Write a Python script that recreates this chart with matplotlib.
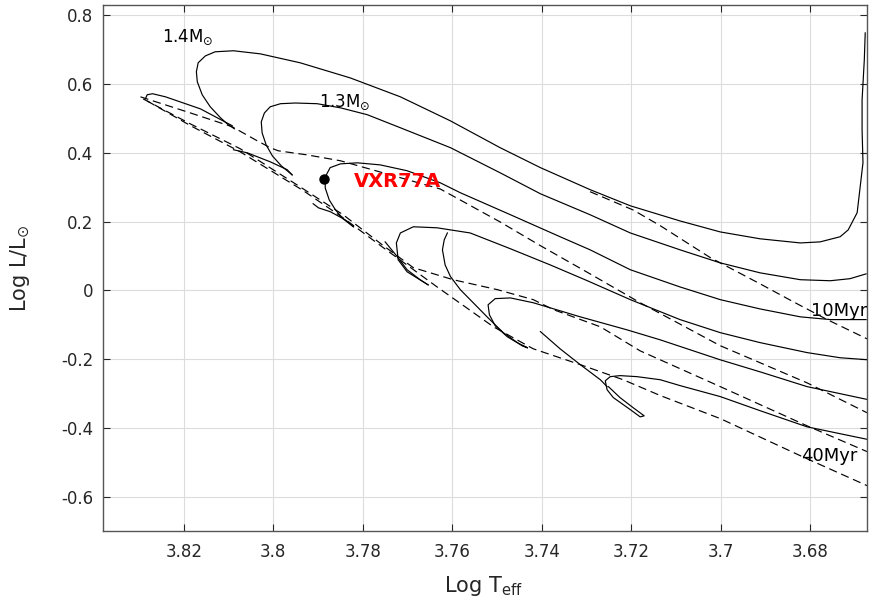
import matplotlib
matplotlib.use("Agg")
import matplotlib.pyplot as plt

# ---- pre-main-sequence evolutionary tracks (log Teff, log L/Lsun) ----
t14_logT = [3.6677, 3.6679, 3.6684, 3.6684, 3.6682, 3.6695, 3.6715, 3.6733, 3.6778,
            3.6822, 3.6912, 3.7001, 3.7091, 3.7202, 3.7292, 3.7403, 3.7493, 3.7604,
            3.7716, 3.7828, 3.7940, 3.8029, 3.8089, 3.8130, 3.8152, 3.8168, 3.8172,
            3.8170, 3.8159, 3.8141, 3.8118, 3.8101, 3.8087]
t14_logL = [0.749, 0.671, 0.554, 0.467, 0.371, 0.226, 0.176, 0.156, 0.141,
            0.138, 0.150, 0.170, 0.202, 0.246, 0.293, 0.357, 0.415, 0.493,
            0.563, 0.618, 0.662, 0.688, 0.697, 0.694, 0.682, 0.662, 0.636,
            0.607, 0.569, 0.534, 0.502, 0.482, 0.470]
t14b_logT = [3.8286, 3.8282, 3.8270, 3.8241, 3.8163, 3.8092]
t14b_logL = [0.557, 0.569, 0.572, 0.563, 0.528, 0.479]

t13_logT = [3.6675, 3.6711, 3.6755, 3.6822, 3.6912, 3.7001, 3.7091, 3.7202, 3.7292,
            3.7403, 3.7493, 3.7604, 3.7716, 3.7790, 3.7850, 3.7902, 3.7951, 3.7984,
            3.8007, 3.8020, 3.8027, 3.8025, 3.8016, 3.8002, 3.7982, 3.7958]
t13_logL = [0.048, 0.034, 0.028, 0.031, 0.051, 0.080, 0.118, 0.167, 0.220,
            0.281, 0.342, 0.415, 0.473, 0.511, 0.531, 0.543, 0.545, 0.543,
            0.534, 0.516, 0.490, 0.458, 0.423, 0.391, 0.362, 0.336]
t13b_logT = [3.8089, 3.8058, 3.8007, 3.7969, 3.7958]
t13b_logL = [0.409, 0.400, 0.374, 0.351, 0.336]

t12_logT = [3.6675, 3.6755, 3.6822, 3.6912, 3.7001, 3.7091, 3.7202, 3.7292, 3.7359,
            3.7470, 3.7582, 3.7627, 3.7701, 3.7761, 3.7812, 3.7850, 3.7873, 3.7884,
            3.7884, 3.7875, 3.7861, 3.7844, 3.7821]
t12_logL = [-0.085, -0.085, -0.077, -0.054, -0.027, 0.010, 0.060, 0.118, 0.156,
            0.220, 0.284, 0.313, 0.348, 0.365, 0.371, 0.368, 0.357, 0.330,
            0.298, 0.263, 0.234, 0.208, 0.185]
t12b_logT = [3.7911, 3.7899, 3.7873, 3.7839, 3.7821]
t12b_logL = [0.252, 0.240, 0.229, 0.205, 0.185]

t11_logT = [3.6670, 3.6733, 3.6807, 3.6912, 3.7001, 3.7091, 3.7202, 3.7298, 3.7381,
            3.7470, 3.7560, 3.7634, 3.7687, 3.7716, 3.7725, 3.7721, 3.7701, 3.7665,
            3.7654]
t11_logL = [-0.202, -0.196, -0.181, -0.152, -0.123, -0.085, -0.027, 0.028, 0.074,
            0.121, 0.167, 0.182, 0.185, 0.167, 0.138, 0.089, 0.054, 0.025,
            0.016]
t11b_logT = [3.7750, 3.7723, 3.7701, 3.7672, 3.7654]
t11b_logL = [0.141, 0.098, 0.060, 0.031, 0.016]

t10_logT = [3.6670, 3.6807, 3.6912, 3.7001, 3.7135, 3.7209, 3.7314, 3.7419, 3.7470,
            3.7504, 3.7520, 3.7517, 3.7504, 3.7477, 3.7455, 3.7432, 3.7444]
t10_logL = [-0.318, -0.280, -0.237, -0.202, -0.144, -0.115, -0.077, -0.036, -0.022,
            -0.024, -0.042, -0.071, -0.103, -0.135, -0.152, -0.167, -0.161]
t10b_logT = [3.7611, 3.7618, 3.7622, 3.7616, 3.7604, 3.7582, 3.7560, 3.7520, 3.7486,
             3.7448, 3.7432]
t10b_logL = [0.167, 0.147, 0.118, 0.074, 0.040, 0.002, -0.027, -0.080, -0.123,
             -0.158, -0.167]

t09_logT = [3.6670, 3.6807, 3.6912, 3.7001, 3.7091, 3.7135, 3.7187, 3.7225, 3.7247,
            3.7258, 3.7254, 3.7240, 3.7202, 3.7180, 3.7171, 3.7196, 3.7225, 3.7251]
t09_logL = [-0.434, -0.397, -0.350, -0.309, -0.277, -0.260, -0.251, -0.248, -0.251,
            -0.263, -0.289, -0.312, -0.347, -0.368, -0.365, -0.341, -0.312, -0.280]
t09b_logT = [3.7403, 3.7359, 3.7314, 3.7269, 3.7254]
t09b_logL = [-0.120, -0.170, -0.216, -0.260, -0.280]

# ---- isochrones ----
iso10_logT = [3.7292, 3.7196, 3.7135, 3.7023, 3.6912, 3.6838, 3.6762, 3.6673]
iso10_logL = [0.287, 0.234, 0.188, 0.095, 0.019, -0.033, -0.085, -0.141]

iso20_logT = [3.8297, 3.8185, 3.8092, 3.8040, 3.8007, 3.7989, 3.7924, 3.7850, 3.7627,
              3.7493, 3.7403, 3.7292, 3.7180, 3.7001, 3.6807, 3.6673]
iso20_logL = [0.563, 0.516, 0.476, 0.438, 0.415, 0.406, 0.394, 0.377, 0.295,
              0.199, 0.130, 0.048, -0.036, -0.161, -0.269, -0.356]

iso30_logT = [3.8291, 3.8185, 3.8074, 3.7940, 3.7844, 3.7754, 3.7687, 3.7598, 3.7499,
              3.7419, 3.7374, 3.7269, 3.7180, 3.7001, 3.6807, 3.6673]
iso30_logL = [0.557, 0.484, 0.412, 0.301, 0.220, 0.130, 0.066, 0.031, 0.002,
              -0.027, -0.056, -0.106, -0.176, -0.280, -0.394, -0.469]

iso40_logT = [3.8282, 3.8185, 3.8074, 3.7933, 3.7844, 3.7754, 3.7634, 3.7508, 3.7419,
              3.7314, 3.7218, 3.7135, 3.7001, 3.6822, 3.6673]
iso40_logL = [0.551, 0.479, 0.403, 0.290, 0.211, 0.124, 0.010, -0.106, -0.170,
              -0.216, -0.260, -0.306, -0.373, -0.481, -0.568]

# ---- the star ----
star_name = "VXR77A"
star_logT = 3.7887
star_logL = 0.3245

xticks = [3.82, 3.80, 3.78, 3.76, 3.74, 3.72, 3.70, 3.68]
xtick_labels = ["3.82", "3.8", "3.78", "3.76", "3.74", "3.72", "3.7", "3.68"]
yticks = [0.8, 0.6, 0.4, 0.2, 0.0, -0.2, -0.4, -0.6]
ytick_labels = ["0.8", "0.6", "0.4", "0.2", "0", "-0.2", "-0.4", "-0.6"]

axis_col = "#262626"

fig = plt.figure(figsize=(8.69, 6.10), dpi=100)
ax = fig.add_axes([0.1189, 0.1295, 0.8788, 0.8628])

tracks = [(t14_logT, t14_logL), (t14b_logT, t14b_logL),
          (t13_logT, t13_logL), (t13b_logT, t13b_logL),
          (t12_logT, t12_logL), (t12b_logT, t12b_logL),
          (t11_logT, t11_logL), (t11b_logT, t11b_logL),
          (t10_logT, t10_logL), (t10b_logT, t10b_logL),
          (t09_logT, t09_logL), (t09b_logT, t09b_logL)]
for tx, ty in tracks:
    ax.plot(tx, ty, color="black", lw=0.85, solid_joinstyle="round")

isochrones = [(iso10_logT, iso10_logL), (iso20_logT, iso20_logL),
              (iso30_logT, iso30_logL), (iso40_logT, iso40_logL)]
for tx, ty in isochrones:
    ax.plot(tx, ty, color="black", lw=0.85, linestyle=(0, (7, 4)))

ax.plot([star_logT], [star_logL], "o", color="black", markersize=6.5)

ax.text(3.8248, 0.723, "1.4M$_{\\odot}$", fontsize=12, ha="left", va="baseline")
ax.text(3.7899, 0.534, "1.3M$_{\\odot}$", fontsize=12, ha="left", va="baseline")
ax.text(3.7821, 0.301, star_name, fontsize=14, color="red", fontweight="bold",
        ha="left", va="baseline")
ax.text(3.6798, -0.074, "10Myr", fontsize=13, ha="left", va="baseline", clip_on=True)
ax.text(3.6820, -0.4975, "40Myr", fontsize=13, ha="left", va="baseline", clip_on=True)

ax.set_xlim(3.838, 3.6673)
ax.set_ylim(-0.70, 0.831)
ax.set_xticks(xticks)
ax.set_xticklabels(xtick_labels)
ax.set_yticks(yticks)
ax.set_yticklabels(ytick_labels)

ax.grid(True, color="#dcdcdc", lw=0.8)
ax.set_axisbelow(True)
ax.tick_params(direction="in", length=5, width=0.8, color=axis_col,
               labelsize=12, labelcolor="#262626", top=True, right=True)
ax.tick_params(axis="x", pad=8.5)
ax.tick_params(axis="y", pad=7)
for s in ax.spines.values():
    s.set_color("#555555")
    s.set_linewidth(1.0)

fig.text(483 / 869, 1 - 592 / 610, "Log T$_{\\rm eff}$", fontsize=15,
         ha="center", va="baseline", color="#262626")
fig.text(20 / 869, 1 - 268 / 610, "Log L/L$_{\\odot}$", fontsize=15, rotation=90,
         ha="center", va="center", color="#262626")

fig.savefig("out.png", dpi=100)
